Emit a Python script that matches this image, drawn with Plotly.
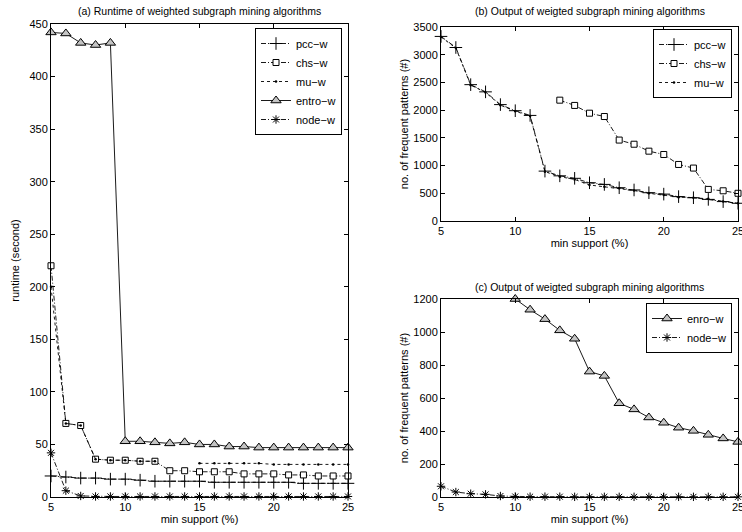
import plotly.graph_objects as go

support = list(range(5, 26))

# (a) runtime (second)
rt_pcc = [20, 19, 18, 18, 17, 17, 16, 15, 15, 15, 15, 14, 14, 14, 14, 14, 14, 13, 13, 13, 13]
rt_chs = [220, 70, 68, 36, 35, 35, 34, 34, 25, 25, 24, 24, 24, 22, 22, 22, 21, 21, 20, 20, 20]
rt_mu = [200, 70, 68, 36, 35, 35, 34, 34, None, None, 32, 32, 32, 32, 32, 31, 31, 31, 31, 31, 31]
rt_entro = [442, 441, 432, 430, 432, 53, 53, 52, 51, 52, 50, 50, 48, 48, 47, 47, 47, 47, 47, 47, 47]
rt_node = [42, 6, 1, 0.5, 0.5, 0.5, 0.5, 0.5, 0.5, 0.5, 0.5, 0.5, 0.5, 0.5, 0.5, 0.5, 0.5, 0.5, 0.5, 0.5, 0.5]

# (b) output (#)
out_pcc = [3330, 3130, 2460, 2330, 2100, 1990, 1905, 900, 815, 770, 690, 660, 600, 560, 510, 485, 440, 420, 390, 350, 320]
out_chs = [None, None, None, None, None, None, None, None,
           2180, 2085, 1945, 1885, 1460, 1385, 1260, 1200, 1020, 955, 570, 545, 500]
out_mu = [3320, 3120, 2450, 2320, 2090, 1980, 1895, 890, 800, 750, 650, 620, 590, 550, 500, 470, 430, 420, 400, 350, 320]

# (c) output (#)
out_enro = [None, None, None, None, None,
            1200, 1135, 1078, 1010, 959, 760, 734, 568, 531, 482, 450, 420, 401, 377, 355, 334]
out_node = [65, 30, 20, 16, 6, 3, 2, 2, 2, 1, 1, 1, 1, 1, 1, 1, 1, 1, 1, 1, 1]

FONT = "Liberation Sans, Arial, sans-serif"
DASHDOT = "5px,2px,1px,2px"
LW = 0.9

fig = go.Figure()


def add(x, y, name, dash, symbol, size, xa, ya, leg, fill="white", mlw=1):
    fig.add_trace(go.Scatter(
        x=x, y=y, name=name, mode="lines+markers",
        line=dict(color="black", width=LW, dash=dash),
        marker=dict(symbol=symbol, size=size, color=fill,
                    line=dict(color="black", width=mlw)),
        xaxis=xa, yaxis=ya, legend=leg, connectgaps=False, cliponaxis=False,
    ))


# panel (a)
add(support, rt_pcc, "pcc\u2212w", DASHDOT, "cross-thin-open", 9, "x", "y", "legend", "black")
add(support, rt_chs, "chs\u2212w", DASHDOT, "square", 6, "x", "y", "legend")
add(support, rt_mu, "mu\u2212w", "dot", "circle", 2.5, "x", "y", "legend", "black", 0)
add(support, rt_entro, "entro\u2212w", "solid", "triangle-up", 9, "x", "y", "legend", "#c4c4c4")
add(support, rt_node, "node\u2212w", DASHDOT, "asterisk-open", 7, "x", "y", "legend", "black")

# panel (b)
add(support, out_pcc, "pcc\u2212w", DASHDOT, "cross-thin-open", 9, "x2", "y2", "legend2", "black")
add(support, out_chs, "chs\u2212w", DASHDOT, "square", 6, "x2", "y2", "legend2")
add(support, out_mu, "mu\u2212w", "dot", "circle", 2.5, "x2", "y2", "legend2", "black", 0)

# panel (c)
add(support, out_enro, "enro\u2212w", "solid", "triangle-up", 9, "x3", "y3", "legend3", "#c4c4c4")
add(support, out_node, "node\u2212w", DASHDOT, "asterisk-open", 7, "x3", "y3", "legend3", "black")

ax_common = dict(
    showline=True, linecolor="black", linewidth=1, mirror="ticks",
    ticks="inside", ticklen=4, tickcolor="black", showgrid=False, zeroline=False,
    tickfont=dict(family=FONT, size=11, color="black"),
    ticklabeloverflow="allow", automargin=False,
)

L0, L1 = 51 / 742, 348 / 742
R0, R1 = 441 / 742, 738 / 742

legend_common = dict(xanchor="right", yanchor="top",
                     bgcolor="white", bordercolor="black", borderwidth=1,
                     font=dict(family=FONT, size=11), tracegroupgap=0, itemwidth=30)

fig.update_layout(
    width=742, height=532,
    margin=dict(l=0, r=0, t=0, b=0, autoexpand=False),
    paper_bgcolor="white", plot_bgcolor="white",
    font=dict(family=FONT, size=11, color="black"),
    xaxis=dict(domain=[L0, L1], range=[5, 25], tickvals=[5, 10, 15, 20, 25], anchor="y",
               title=dict(text="min support (%)", standoff=2, font=dict(size=11)), **ax_common),
    yaxis=dict(domain=[1 - 497 / 532, 1 - 24 / 532], range=[0, 450], dtick=50, anchor="x",
               title=dict(text="runtime (second)", standoff=7, font=dict(size=11)), **ax_common),
    xaxis2=dict(domain=[R0, R1], range=[5, 25], tickvals=[5, 10, 15, 20, 25], anchor="y2",
                title=dict(text="min support (%)", standoff=2, font=dict(size=11)), **ax_common),
    yaxis2=dict(domain=[1 - 221 / 532, 1 - 27 / 532], range=[0, 3500], dtick=500, anchor="x2",
                title=dict(text="no. of frequent patterns (#)", standoff=2, font=dict(size=11)), **ax_common),
    xaxis3=dict(domain=[R0, R1], range=[5, 25], tickvals=[5, 10, 15, 20, 25], anchor="y3",
                title=dict(text="min support (%)", standoff=2, font=dict(size=11)), **ax_common),
    yaxis3=dict(domain=[1 - 497 / 532, 1 - 299 / 532], range=[0, 1200], dtick=200, anchor="x3",
                title=dict(text="no. of frequent patterns (#)", standoff=2, font=dict(size=11)), **ax_common),
    legend=dict(x=342 / 742, y=1 - 28 / 532, **legend_common),
    legend2=dict(x=732 / 742, y=1 - 29 / 532, **legend_common),
    legend3=dict(x=732 / 742, y=1 - 303 / 532, **legend_common),
    annotations=[
        dict(text="(a) Runtime of weighted subgraph mining algorithms", x=(L0 + L1) / 2, y=1 - 11 / 532,
             xref="paper", yref="paper", xanchor="center", yanchor="middle",
             showarrow=False, font=dict(size=10.5)),
        dict(text="(b) Output of weigted subgraph mining algorithms", x=(R0 + R1) / 2, y=1 - 11 / 532,
             xref="paper", yref="paper", xanchor="center", yanchor="middle",
             showarrow=False, font=dict(size=10.5)),
        dict(text="(c) Output of weigted subgraph mining algorithms", x=(R0 + R1) / 2, y=1 - 287 / 532,
             xref="paper", yref="paper", xanchor="center", yanchor="middle",
             showarrow=False, font=dict(size=10.5)),
    ],
)

fig.write_html("out.html", config={"displayModeBar": False},
               post_script="document.body.style.margin='0';document.body.style.overflow='hidden';")
